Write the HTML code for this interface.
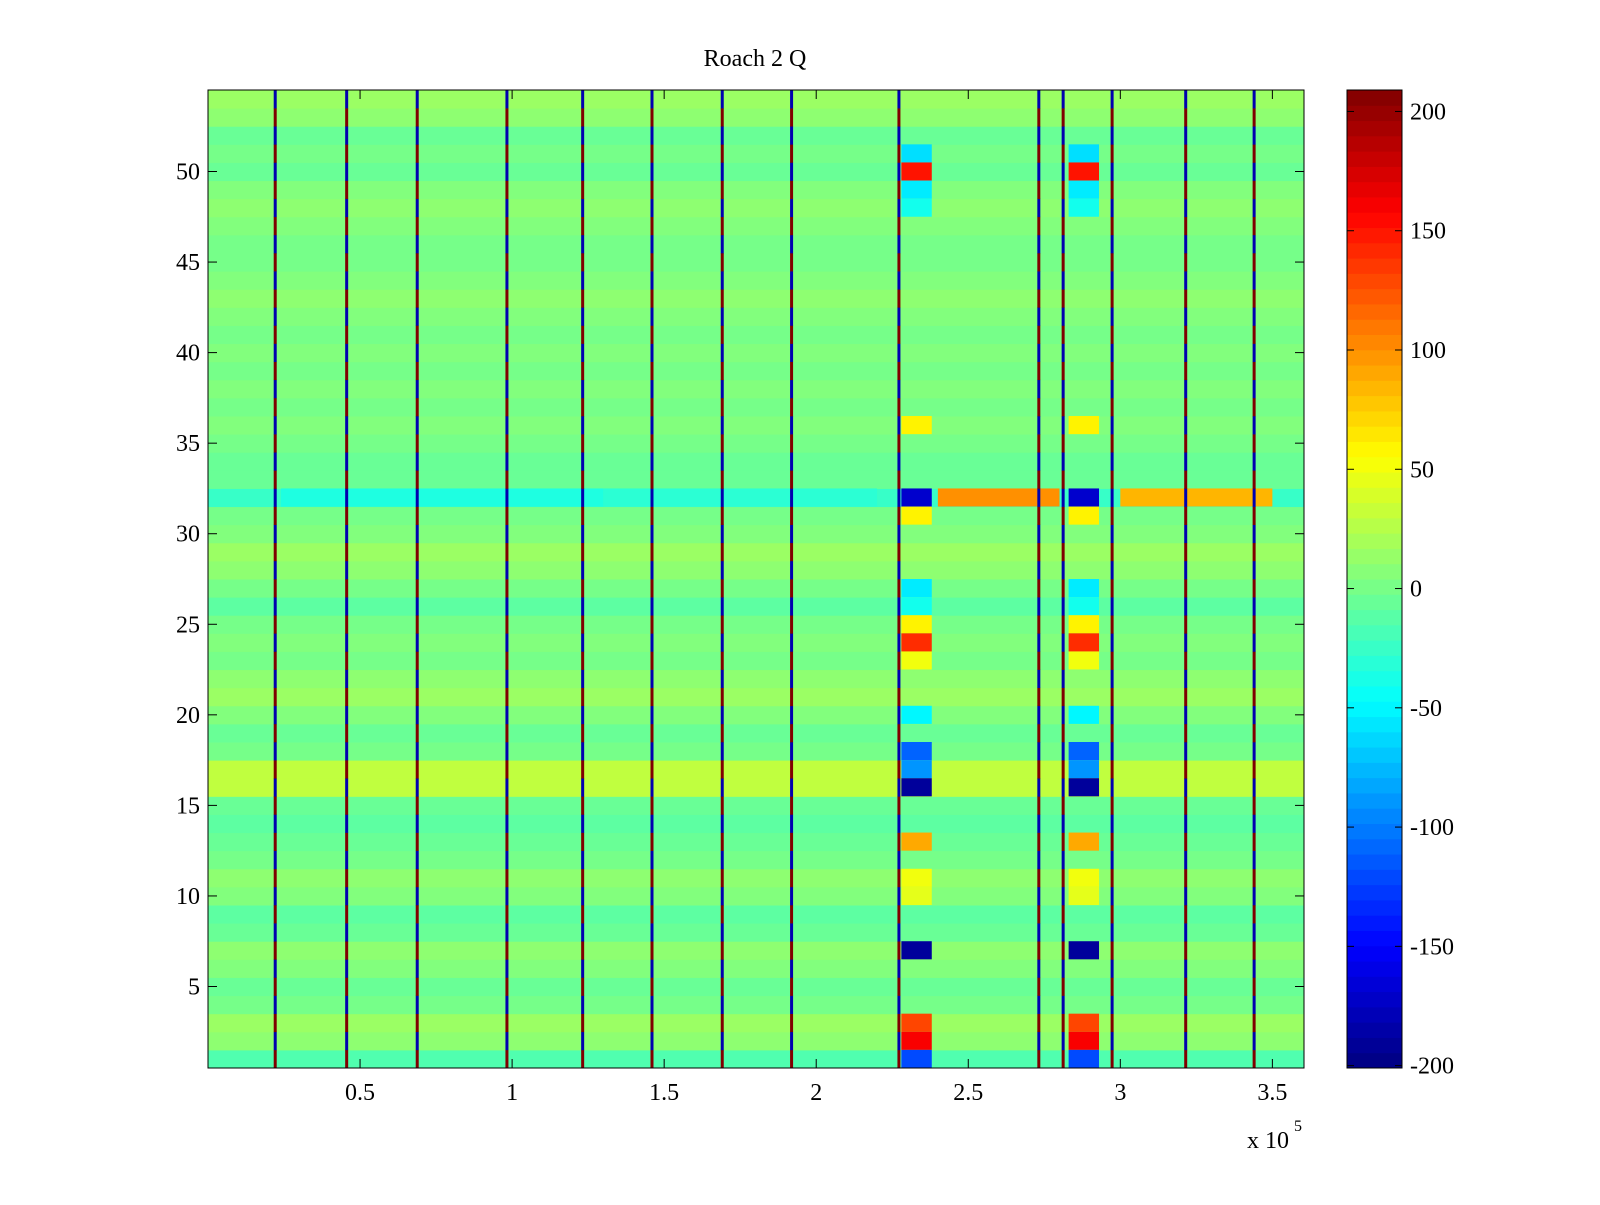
<!DOCTYPE html>
<html><head><meta charset="utf-8"><style>
html,body{margin:0;padding:0;background:#fff;}
svg text{font-family:"Liberation Serif",serif;font-size:24px;fill:#000;}
</style></head><body>
<svg id="chart" width="1600" height="1200" viewBox="0 0 1600 1200" xmlns="http://www.w3.org/2000/svg">
<rect width="1600" height="1200" fill="#fff"/>
<text x="755" y="66" text-anchor="middle">Roach 2 Q</text>
<g id="cells"></g>
<g id="axes"></g>
<g id="cbar"></g>
</svg>
<script>
// rows 1..54 baseline values (bottom to top)
const rowValues=[-15,10,15,0,-5,5,10,-5,-10,5,10,0,-5,-10,-5,30,30,0,-5,5,15,10,0,5,0,-10,0,10,15,5,0,-25,-5,-5,0,5,0,5,0,5,0,5,10,5,0,0,5,10,5,-5,0,-5,10,15];
// spike column positions (x 1e5)
const spikeX=[0.221,0.456,0.688,0.983,1.232,1.460,1.691,1.919,2.272,2.732,2.812,2.973,3.215,3.440];
// blocks: [row, value] at each block start
const blockRows=[51,50,49,48,36,32,31,27,26,25,24,23,20,18,17,16,13,11,10,7,3,2,1];
const blockVals=[-60,150,-55,-40,60,-170,60,-55,-40,60,140,50,-50,-110,-90,-190,90,50,45,-190,130,160,-120];
const blockStarts=[2.28,2.83];
const blockWidth=0.10;
// row 32 long bands
const bandStart=[0.24,1.3,2.40,3.00];
const bandEnd=[1.3,2.2,2.80,3.50];
const bandVal=[-35,-30,100,85];
const xTicks=[0.5,1,1.5,2,2.5,3,3.5];
const yTicks=[5,10,15,20,25,30,35,40,45,50];
const cbTicks=[200,150,100,50,0,-50,-100,-150,-200];

const L=208,R=1304,T=90,B=1068,XMAX=3.604,CMIN=-201,CMAX=209;
const xs=v=>L+v/XMAX*(R-L);
const ys=r=>B-(r-0.5)/54*(B-T);
function jet(v){let t=(v-CMIN)/(CMAX-CMIN);t=Math.max(0,Math.min(1,t));
 const c=x=>Math.round(255*Math.max(0,Math.min(1,x)));
 return `rgb(${c(1.5-Math.abs(4*t-3))},${c(1.5-Math.abs(4*t-2))},${c(1.5-Math.abs(4*t-1))})`;}
const NS="http://www.w3.org/2000/svg";
function mk(tag,attrs,parent){const e=document.createElementNS(NS,tag);for(const k in attrs)e.setAttribute(k,attrs[k]);parent.appendChild(e);return e;}
const cells=document.getElementById('cells');
rowValues.forEach((v,i)=>{const r=i+1;
 const e=mk('rect',{x:L,y:ys(r+0.5),width:R-L,height:ys(r-0.5)-ys(r+0.5)+0.5,fill:jet(v)},cells);
 
 });
bandStart.forEach((s,i)=>{
 const e=mk('rect',{x:xs(s),y:ys(32.5),width:xs(bandEnd[i])-xs(s),height:ys(31.5)-ys(32.5),fill:jet(bandVal[i])},cells);
 
 });
blockRows.forEach((r,i)=>{blockStarts.forEach(s=>{
 const e=mk('rect',{x:xs(s),y:ys(r+0.5),width:xs(s+blockWidth)-xs(s),height:ys(r-0.5)-ys(r+0.5),fill:jet(blockVals[i])},cells);
 
 });});
spikeX.forEach(sx=>{for(let r=1;r<=54;r++){
 const e=mk('rect',{x:xs(sx)-1.5,y:ys(r+0.5),width:3,height:ys(r-0.5)-ys(r+0.5)+0.3,fill:(r%2?'#800000':'#0000b0')},cells);
 
 }});
const ax=document.getElementById('axes');
const fr=mk('rect',{x:L,y:T,width:R-L,height:B-T,fill:'none',stroke:'#000','stroke-width':1},ax);


xTicks.forEach(t=>{const x=xs(t);
 mk('line',{x1:x,x2:x,y1:B,y2:B-9,stroke:'#000'},ax);mk('line',{x1:x,x2:x,y1:T,y2:T+9,stroke:'#000'},ax);
 const tx=mk('text',{x:x,y:B+32,'text-anchor':'middle'},ax);tx.textContent=String(t);
 
 });
yTicks.forEach(t=>{const y=ys(t);
 mk('line',{x1:L,x2:L+9,y1:y,y2:y,stroke:'#000'},ax);mk('line',{x1:R,x2:R-9,y1:y,y2:y,stroke:'#000'},ax);
 const tx=mk('text',{x:L-8,y:y+8,'text-anchor':'end'},ax);tx.textContent=String(t);
 
 });
const ex=mk('text',{x:1247,y:1148},ax);ex.textContent='x 10';


const ex2=mk('text',{x:1294,y:1131,style:'font-size:16px'},ax);ex2.textContent='5';


// colorbar
const cb=document.getElementById('cbar');const CL=1347,CR=1402;
const cy=v=>B-(v-CMIN)/(CMAX-CMIN)*(B-T);
for(let k=0;k<64;k++){const v0=CMIN+k*(CMAX-CMIN)/64,v1=CMIN+(k+1)*(CMAX-CMIN)/64;
 const e=mk('rect',{x:CL,y:cy(v1),width:CR-CL,height:cy(v0)-cy(v1)+0.5,fill:jet((v0+v1)/2)},cb);
 
 }
const cf=mk('rect',{x:CL,y:T,width:CR-CL,height:B-T,fill:'none',stroke:'#000'},cb);


cbTicks.forEach(t=>{const y=cy(t);
 mk('line',{x1:CL,x2:CL+7,y1:y,y2:y,stroke:'#000'},cb);mk('line',{x1:CR,x2:CR-7,y1:y,y2:y,stroke:'#000'},cb);
 const tx=mk('text',{x:CR+8,y:y+8},cb);tx.textContent=String(t);
 
 });
</script>
</body></html>
